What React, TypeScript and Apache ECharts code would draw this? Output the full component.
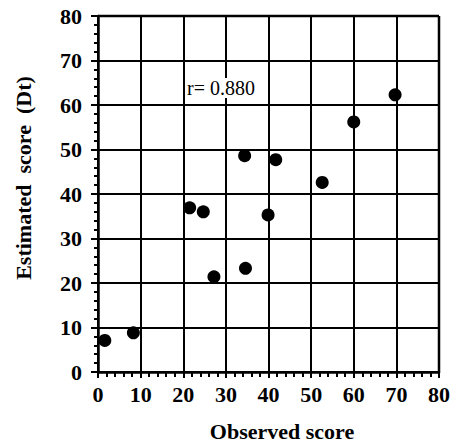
import React, { useEffect, useRef } from "react";
import * as echarts from "echarts";

const observed = [1.6, 8.3, 21.5, 24.7, 27.2, 34.4, 34.6, 39.9, 41.7, 52.6, 60.0, 69.7];
const estimated = [7.1, 8.8, 36.9, 36.0, 21.4, 48.6, 23.3, 35.3, 47.7, 42.6, 56.2, 62.3];
const rLabel = "r= 0.880";
const xTitle = "Observed score";
const yTitle = "Estimated  score  (Dt)";

const serif = "'Liberation Serif', 'Times New Roman', serif";

export default function App() {
  const ref = useRef<HTMLDivElement>(null);
  useEffect(() => {
    document.body.style.margin = "0";
    if (!ref.current) return;
    const chart = echarts.init(ref.current, undefined, { renderer: "svg" });
    const points = observed.map((x, i) => [x, estimated[i]]);
    const tickLabel = {
      fontFamily: serif,
      fontWeight: "bold" as const,
      fontSize: 22,
      color: "#000",
    };
    chart.setOption({
      animation: false,
      backgroundColor: "#ffffff",
      textStyle: { fontFamily: serif },
      grid: { left: 98, right: 18, top: 16, bottom: 73 },
      xAxis: {
        type: "value",
        min: 0,
        max: 80,
        interval: 10,
        axisLine: { show: true, onZero: false, lineStyle: { color: "#000", width: 2.5 } },
        axisTick: { show: true, length: 6, lineStyle: { color: "#000", width: 2 } },
        minorTick: { show: true, splitNumber: 5, length: 5, lineStyle: { color: "#000", width: 2 } },
        splitLine: { show: true, lineStyle: { color: "#000", width: 2 } },
        axisLabel: { ...tickLabel, margin: 11 },
      },
      yAxis: {
        type: "value",
        min: 0,
        max: 80,
        interval: 10,
        axisLine: { show: true, onZero: false, lineStyle: { color: "#000", width: 2.5 } },
        axisTick: { show: true, length: 7, lineStyle: { color: "#000", width: 2 } },
        minorTick: { show: true, splitNumber: 5, length: 4, lineStyle: { color: "#000", width: 2 } },
        splitLine: { show: true, lineStyle: { color: "#000", width: 2 } },
        axisLabel: { ...tickLabel, margin: 16 },
      },
      graphic: [
        {
          type: "text",
          x: 187,
          y: 88,
          z: 10,
          style: {
            text: rLabel,
            fontFamily: serif,
            fontSize: 20,
            fill: "#000",
            verticalAlign: "middle",
            align: "left",
            backgroundColor: "#fff",
          },
        },
        {
          type: "text",
          x: 282,
          y: 431,
          style: {
            text: xTitle,
            fontFamily: serif,
            fontWeight: "bold",
            fontSize: 22,
            fill: "#000",
            align: "center",
            verticalAlign: "middle",
          },
        },
        {
          type: "text",
          x: 23,
          y: 178,
          rotation: Math.PI / 2,
          style: {
            text: yTitle,
            fontFamily: serif,
            fontWeight: "bold",
            fontSize: 22,
            fill: "#000",
            align: "center",
            verticalAlign: "middle",
          },
        },
        {
          type: "line",
          shape: { x1: 439, y1: 16, x2: 439, y2: 372 },
          style: { stroke: "#000", lineWidth: 2.5 },
          z: 5,
        },
        {
          type: "line",
          shape: { x1: 98, y1: 16, x2: 439, y2: 16 },
          style: { stroke: "#000", lineWidth: 2.5 },
          z: 5,
        },
      ],
      series: [
        {
          type: "scatter",
          data: points,
          symbol: "circle",
          symbolSize: 13,
          itemStyle: { color: "#000", opacity: 1 },
          z: 20,
        },
      ],
    });
    return () => chart.dispose();
  }, []);
  return <div ref={ref} style={{ width: 457, height: 445 }} />;
}
